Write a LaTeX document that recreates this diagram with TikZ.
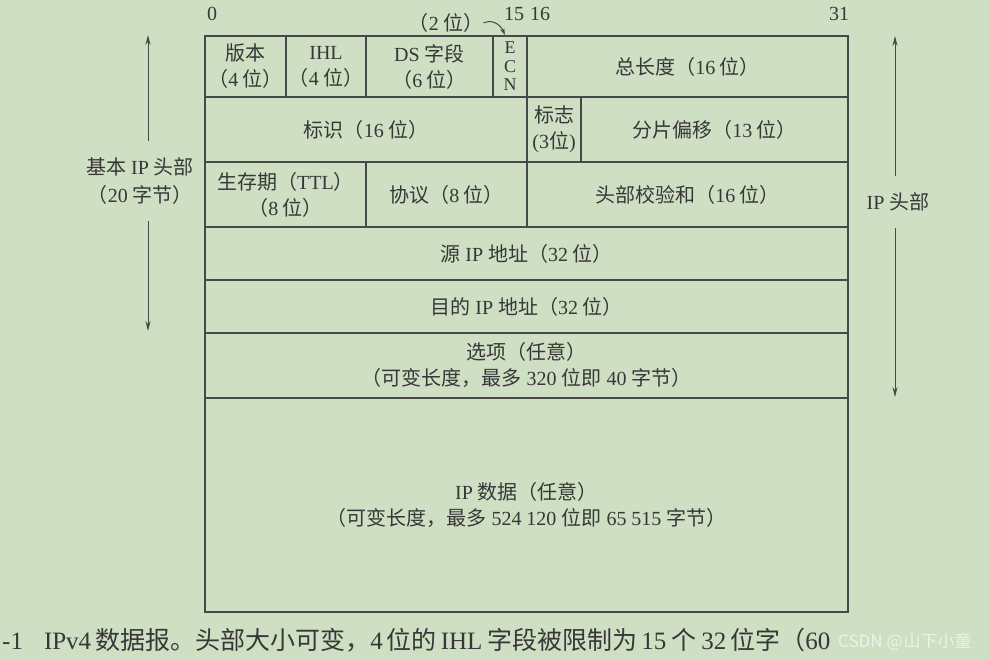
\documentclass[tikz,border=0pt]{standalone}
\usepackage{fontspec}
\setmainfont{Liberation Serif}
\newfontfamily\cjk{Noto Sans CJK SC}
\newcommand\zh[1]{{\cjk #1}}
\usetikzlibrary{arrows.meta}
\definecolor{bgc}{RGB}{206,223,195}
\definecolor{linec}{RGB}{72,72,72}
\definecolor{txtc}{RGB}{55,55,55}
\definecolor{wmc}{RGB}{236,242,232}
\begin{document}
\begin{tikzpicture}[x=1pt,y=-1pt,
  cell/.style={draw=linec, line width=1.2pt, inner sep=0pt, align=center, text=txtc, font=\fontsize{20}{26}\selectfont},
  lbl/.style={inner sep=0pt, align=center, text=txtc, font=\fontsize{20}{28}\selectfont},
  arr/.style={draw=linec, line width=1pt, -{Stealth[length=10pt,width=5pt]}},
]
\fill[bgc] (0,0) rectangle (989,660);
\useasboundingbox (0,0) rectangle (989,660);
\clip (0,0) rectangle (989,660);

% row 1
\node[cell, minimum width=81, minimum height=61] (ver) at (245.5,66.5) {\zh{版本}\\\zh{（}4\zh{ 位）}};
\node[cell, minimum width=80, minimum height=61] (ihl) at (326,66.5) {IHL\\\zh{（}4\zh{ 位）}};
\node[cell, minimum width=127, minimum height=61] (ds) at (429.5,66.5) {DS \zh{字段}\\\zh{（}6\zh{ 位）}};
\node[cell, minimum width=34, minimum height=61, font=\fontsize{18}{18.5}\selectfont] (ecn) at (510,66.5) {E\\C\\N};
\node[cell, minimum width=321, minimum height=61] (tot) at (687.5,66.5) {\zh{总长度（}16\zh{ 位）}};
% row 2
\node[cell, minimum width=322, minimum height=65] (ident) at (366,129.5) {\zh{标识（}16\zh{ 位）}};
\node[cell, minimum width=54, minimum height=65] (flg) at (554,129.5) {\zh{标志}\\(3\zh{位})};
\node[cell, minimum width=267, minimum height=65] (frag) at (714.5,129.5) {\zh{分片偏移（}13\zh{ 位）}};
% row 3
\node[cell, minimum width=161, minimum height=65] (ttl) at (285.5,194.5) {\zh{生存期（}TTL\zh{）}\\\zh{（}8\zh{ 位）}};
\node[cell, minimum width=161, minimum height=65] (proto) at (446.5,194.5) {\zh{协议（}8\zh{ 位）}};
\node[cell, minimum width=321, minimum height=65] (csum) at (687.5,194.5) {\zh{头部校验和（}16\zh{ 位）}};
% rows 4-7
\node[cell, minimum width=643, minimum height=53] (src) at (526.5,253.5) {\zh{源} IP \zh{地址（}32\zh{ 位）}};
\node[cell, minimum width=643, minimum height=53] (dst) at (526.5,306.5) {\zh{目的} IP \zh{地址（}32\zh{ 位）}};
\node[cell, minimum width=643, minimum height=65] (opt) at (526.5,365.5) {\zh{选项（任意）}\\\zh{（可变长度，最多} 320 \zh{位即} 40 \zh{字节）}};
\node[cell, minimum width=643, minimum height=214] (data) at (526.5,505) {IP \zh{数据（任意）}\\\zh{（可变长度，最多} 524 120 \zh{位即} 65 515 \zh{字节）}};

% bit labels
\node[lbl] (b0) at (212,14) {0};
\node[lbl] (b15) at (514,14) {15};
\node[lbl] (b16) at (540,14) {16};
\node[lbl] (b31) at (839,14) {31};

% ECN width label
\node[lbl] (ecnw) at (446,23) {\zh{（}2\zh{ 位）}};
\coordinate (ecntip) at (505,35);
\draw[draw=linec, line width=1pt, -{Stealth[length=7pt,width=4.5pt]}] (ecnw.east) .. controls (492,19) and (500,24) .. (ecntip);

% left arrows
\node[lbl, minimum height=80] (basic) at (140,181) {\zh{基本} IP \zh{头部}\\\zh{（}20\zh{ 字节）}};
\coordinate (btop) at (148,35);
\coordinate (bbot) at (148,331);
\draw[arr] (basic.north -| btop) -- (btop);
\draw[arr] (basic.south -| bbot) -- (bbot);

% right arrows
\node[lbl, minimum height=52] (iph) at (898,202) {IP \zh{头部}};
\coordinate (itop) at (895,36);
\coordinate (ibot) at (895,397);
\draw[arr] (iph.north -| itop) -- (itop);
\draw[arr] (iph.south -| ibot) -- (ibot);

% caption
\node[lbl, anchor=base west, font=\fontsize{25}{28}\selectfont] (cap) at (2,649) {-1\hspace{21pt}IPv4\hspace{4pt}\zh{数据报。头部大小可变，}4\hspace{4pt}\zh{位的}\hspace{4pt}IHL\hspace{5pt}\zh{字段被限制为}\hspace{4pt}15\hspace{5pt}\zh{个}\hspace{5pt}32\hspace{4pt}\zh{位字（}60};
\node[inner sep=0pt, anchor=base west, text=wmc, font=\cjk\fontsize{17}{20}\selectfont] (wm) at (838,647) {CSDN @\hspace{1pt}山下小童};
\end{tikzpicture}
\end{document}
